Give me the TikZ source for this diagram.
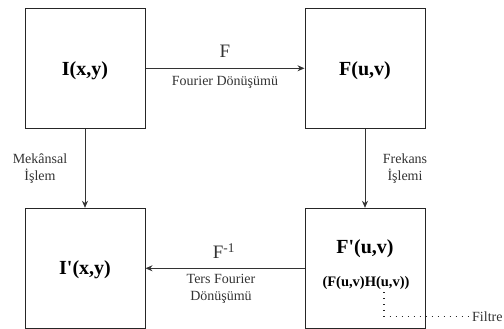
\documentclass[tikz,border=0pt]{standalone}
\usepackage{fontspec}
\setmainfont{Liberation Serif}
\usetikzlibrary{arrows.meta}
\begin{document}
\begin{tikzpicture}[x=1pt,y=-1pt,
  box/.style={draw=black!85, line width=1pt, minimum width=120pt, minimum height=120pt, inner sep=0pt},
  big/.style={font=\fontsize{20}{22}\selectfont\bfseries},
  mid/.style={font=\fontsize{14.5}{16}\selectfont\bfseries},
  lbl/.style={font=\fontsize{14}{17}\selectfont, text=black!80, align=center, inner sep=0pt},
  sym/.style={font=\fontsize{19}{21}\selectfont, text=black!80, inner sep=0pt},
  conn/.style={draw=black!80, line width=0.9pt, -{Stealth[length=7pt,width=6pt]}},
  dots/.style={draw=black!85, line width=1.4pt, dash pattern=on 1.4pt off 4.6pt}]
\useasboundingbox (0,0) rectangle (504,329);
\node[box] (b1) at (85,68.3) {};
\node[box] (b2) at (365,68.3) {};
\node[box] (b3) at (85,268.3) {};
\node[box] (b4) at (365,268.3) {};
\node[big] (t1) at (85,71) {I(x,y)};
\node[big] (t2) at (365,71) {F(u,v)};
\node[big] (t3) at (85,270) {I\textquotesingle(x,y)};
\node[big] (t4) at (365,249) {F\textquotesingle(u,v)};
\node[mid] (t5) at (366,283) {(F(u,v)H(u,v))};
\draw[conn] (b1) -- (b2);
\draw[conn] (b4) -- (b3);
\draw[conn] (b1) -- (b3);
\draw[conn] (b2) -- (b4);
\node[sym] (f1) at (225,51) {F};
\node[lbl] (l1) at (225,82) {Fourier Dönüşümü};
\node[sym] (f2) at (224,251) {F\textsuperscript{-1}};
\node[lbl] (l2) at (221,289) {Ters Fourier\\Dönüşümü};
\node[lbl] (l3) at (40,169) {Mekânsal\\İşlem};
\node[lbl] (l4) at (405,169) {Frekans\\İşlemi};
\node[lbl, anchor=west] (filtre) at (472,316.5) {Filtre};
\coordinate (d1) at (384,292);
\coordinate (d2) at (384,316.5);
\draw[dots] (d1) -- (d2) -- (filtre.west);
\end{tikzpicture}
\end{document}
